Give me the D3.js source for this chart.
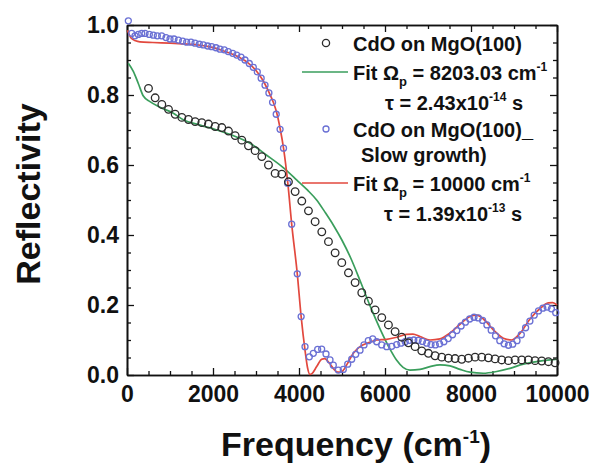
<!DOCTYPE html>
<html>
<head>
<meta charset="utf-8">
<script src="https://cdn.jsdelivr.net/npm/d3@7"></script>
<style>
  body { margin: 0; background: #fff; }
  svg text { font-family: "Liberation Sans", Arial, sans-serif; font-weight: bold; fill: #111; }
</style>
</head>
<body>
<div id="chart"></div>
<script>
// measured data: CdO on MgO(100)
const freqBlack = [500, 655, 810, 965, 1120, 1275, 1430, 1585, 1740, 1895, 2050, 2205, 2360, 2515, 2670, 2825, 2980, 3135, 3290, 3445,
  3600, 3755, 3910, 4065, 4220, 4375, 4530, 4685, 4840, 4995, 5150, 5305, 5460, 5615, 5770, 5925, 6080, 6235, 6390, 6545,
  6700, 6855, 7010, 7165, 7320, 7475, 7630, 7785, 7940, 8095, 8250, 8405, 8560, 8715, 8870, 9025, 9180, 9335, 9490, 9645, 9800, 9955];
const reflBlack = [0.819, 0.792, 0.773, 0.759, 0.745, 0.736, 0.730, 0.724, 0.721, 0.717, 0.710, 0.707, 0.697, 0.684, 0.671, 0.655, 0.641, 0.624, 0.600, 0.576,
  0.574, 0.552, 0.524, 0.497, 0.469, 0.438, 0.409, 0.381, 0.349, 0.321, 0.292, 0.264, 0.235, 0.211, 0.186, 0.164, 0.143, 0.124, 0.108, 0.092,
  0.081, 0.069, 0.062, 0.055, 0.051, 0.048, 0.047, 0.045, 0.048, 0.051, 0.051, 0.049, 0.046, 0.043, 0.041, 0.043, 0.043, 0.043, 0.041, 0.040, 0.038, 0.035];

// CdO on MgO(100) slow growth
const freqBlue = [31, 109, 186, 263, 342, 419, 519, 612, 705, 806, 907, 1000, 1093, 1194, 1295, 1388, 1488, 1581, 1682, 1775,
  1877, 1969, 2070, 2163, 2263, 2356, 2458, 2551, 2651, 2744, 2844, 2937, 3030, 3120, 3210, 3300, 3385, 3470, 3560, 3640,
  3735, 3830, 3960, 4050, 4140, 4240, 4333, 4434, 4527, 4628, 4721, 4798, 4914, 5030, 5133, 5226, 5319, 5419, 5512, 5612,
  5714, 5807, 5923, 6040, 6156, 6272, 6370, 6470, 6570, 6670, 6770, 6870, 6970, 7070, 7170, 7270, 7370, 7470, 7570, 7670,
  7770, 7870, 7970, 8070, 8170, 8270, 8370, 8470, 8570, 8670, 8770, 8870, 8970, 9070, 9170, 9270, 9370, 9470, 9570, 9670, 9770, 9870, 9970];
const reflBlue = [1.012, 0.976, 0.969, 0.973, 0.976, 0.976, 0.973, 0.971, 0.969, 0.969, 0.964, 0.960, 0.960, 0.957, 0.954, 0.951, 0.951, 0.948, 0.945, 0.943,
  0.940, 0.938, 0.935, 0.931, 0.929, 0.924, 0.919, 0.914, 0.908, 0.900, 0.890, 0.879, 0.866, 0.848, 0.828, 0.806, 0.779, 0.745, 0.702, 0.648,
  0.548, 0.431, 0.289, 0.167, 0.081, 0.052, 0.062, 0.073, 0.074, 0.060, 0.043, 0.028, 0.014, 0.016, 0.031, 0.045, 0.059, 0.071, 0.086, 0.098,
  0.103, 0.095, 0.086, 0.081, 0.082, 0.087, 0.091, 0.095, 0.099, 0.100, 0.099, 0.096, 0.091, 0.087, 0.086, 0.089, 0.095, 0.104, 0.115, 0.127,
  0.140, 0.151, 0.160, 0.165, 0.163, 0.156, 0.143, 0.128, 0.112, 0.098, 0.089, 0.085, 0.088, 0.098, 0.115, 0.135, 0.154, 0.171, 0.183, 0.191, 0.194, 0.189, 0.178];

// Drude fit, Wp = 8203.03
const freqFitGreen = [30, 150, 263, 380, 535, 767, 1078, 1310, 1700, 2085, 2470, 2860, 3250, 3640, 3950, 4200, 4410, 4600, 4800, 5000,
  5200, 5419, 5651, 5884, 6116, 6272, 6420, 6580, 6814, 7047, 7279, 7512, 7744, 7977, 8288, 8598, 8907, 9217, 9528, 9837, 10000];
const reflFitGreen = [0.891, 0.867, 0.833, 0.797, 0.781, 0.765, 0.748, 0.729, 0.714, 0.700, 0.684, 0.662, 0.628, 0.592, 0.557, 0.528, 0.500, 0.466, 0.428, 0.385,
  0.335, 0.270, 0.198, 0.132, 0.074, 0.042, 0.022, 0.014, 0.016, 0.024, 0.029, 0.026, 0.016, 0.008, 0.005, 0.010, 0.019, 0.031, 0.038, 0.043, 0.045];

// Drude fit, Wp = 10000
const freqFitRed = [10, 100, 200, 300, 600, 1000, 1300, 1600, 1900, 2200, 2500, 2800, 3000, 3170, 3300, 3400, 3480, 3560, 3640, 3740,
  3830, 3960, 4050, 4140, 4200, 4250, 4300, 4411, 4527, 4600, 4700, 4800, 4900, 5000, 5109, 5263, 5419, 5612, 5807, 6040,
  6272, 6500, 6650, 6814, 7047, 7279, 7512, 7744, 7977, 8133, 8288, 8519, 8752, 8947, 9140, 9372, 9605, 9798, 9900, 10000];
const reflFitRed = [0.985, 0.962, 0.955, 0.952, 0.950, 0.948, 0.946, 0.944, 0.938, 0.928, 0.914, 0.893, 0.870, 0.840, 0.808, 0.780, 0.750, 0.705, 0.648, 0.548,
  0.431, 0.289, 0.167, 0.071, 0.020, 0.002, 0.004, 0.024, 0.045, 0.047, 0.035, 0.018, 0.008, 0.010, 0.029, 0.062, 0.081, 0.092, 0.100, 0.102,
  0.108, 0.116, 0.117, 0.110, 0.100, 0.103, 0.120, 0.145, 0.167, 0.171, 0.160, 0.129, 0.105, 0.100, 0.119, 0.160, 0.190, 0.206, 0.207, 0.200];

const xMajor = [0, 2000, 4000, 6000, 8000, 10000];
const xMinor = [500, 1000, 1500, 2500, 3000, 3500, 4500, 5000, 5500, 6500, 7000, 7500, 8500, 9000, 9500];
const yMajor = [0, 0.2, 0.4, 0.6, 0.8, 1.0];
const yMinor = [0.05, 0.1, 0.15, 0.25, 0.3, 0.35, 0.45, 0.5, 0.55, 0.65, 0.7, 0.75, 0.85, 0.9, 0.95];

const colBlack = "#2b2b2b", colBlue = "#6a70d4", colGreen = "#3a9e5c", colRed = "#e2483e";

// set the dimensions and margins of the graph
const margin = {top: 25, right: 39, bottom: 88, left: 127},
    width = 596 - margin.left - margin.right,
    height = 463 - margin.top - margin.bottom;

const svg = d3.select("#chart")
  .append("svg")
    .attr("width", 596)
    .attr("height", 463)
  .append("g")
    .attr("transform", `translate(${margin.left}, ${margin.top})`);

const x = d3.scaleLinear().domain([0, 10000]).range([0, width]);
const y = d3.scaleLinear().domain([0, 1.0]).range([height, 0]);

// axes, ticks pointing inside
function styleAxis(g) {
  g.select(".domain").attr("stroke", "#111").attr("stroke-width", 1.6);
  g.selectAll(".tick line").attr("stroke", "#111").attr("stroke-width", 1.3);
}

// bottom
svg.append("g")
  .attr("transform", `translate(0, ${height})`)
  .call(d3.axisBottom(x).tickValues(xMinor).tickSize(-4).tickSizeOuter(0).tickFormat(""))
  .call(styleAxis);
svg.append("g")
  .attr("transform", `translate(0, ${height})`)
  .call(d3.axisBottom(x).tickValues(xMajor).tickSize(-7).tickSizeOuter(0).tickPadding(11).tickFormat(d3.format("d")))
  .call(styleAxis)
  .selectAll("text").style("font-size", "23px").attr("fill", "#111");

// top
svg.append("g")
  .call(d3.axisTop(x).tickValues(xMinor).tickSize(-4).tickSizeOuter(0).tickFormat(""))
  .call(styleAxis);
svg.append("g")
  .call(d3.axisTop(x).tickValues(xMajor).tickSize(-7).tickSizeOuter(0).tickFormat(""))
  .call(styleAxis);

// left
svg.append("g")
  .call(d3.axisLeft(y).tickValues(yMinor).tickSize(-4).tickSizeOuter(0).tickFormat(""))
  .call(styleAxis);
svg.append("g")
  .call(d3.axisLeft(y).tickValues(yMajor).tickSize(-7).tickSizeOuter(0).tickPadding(8).tickFormat(d3.format(".1f")))
  .call(styleAxis)
  .selectAll("text").style("font-size", "23px").attr("fill", "#111");

// right
svg.append("g")
  .attr("transform", `translate(${width}, 0)`)
  .call(d3.axisRight(y).tickValues(yMinor).tickSize(-4).tickSizeOuter(0).tickFormat(""))
  .call(styleAxis);
svg.append("g")
  .attr("transform", `translate(${width}, 0)`)
  .call(d3.axisRight(y).tickValues(yMajor).tickSize(-7).tickSizeOuter(0).tickFormat(""))
  .call(styleAxis);

// the fit lines
const line = d3.line()
  .x(d => x(d[0]))
  .y(d => y(d[1]))
  .curve(d3.curveMonotoneX);

svg.append("path")
  .datum(freqFitGreen.map((f, i) => [f, reflFitGreen[i]]))
  .attr("d", line)
  .attr("fill", "none")
  .attr("stroke", colGreen)
  .attr("stroke-width", 1.7);

svg.append("path")
  .datum(freqFitRed.map((f, i) => [f, reflFitRed[i]]))
  .attr("d", line)
  .attr("fill", "none")
  .attr("stroke", colRed)
  .attr("stroke-width", 1.7);

// the points
svg.append("g")
  .selectAll("circle")
  .data(freqBlue.map((f, i) => [f, reflBlue[i]]))
  .join("circle")
    .attr("cx", d => x(d[0]))
    .attr("cy", d => y(d[1]))
    .attr("r", 3.0)
    .attr("fill", "none")
    .attr("stroke", colBlue)
    .attr("stroke-width", 1.3);

svg.append("g")
  .selectAll("circle")
  .data(freqBlack.map((f, i) => [f, reflBlack[i]]))
  .join("circle")
    .attr("cx", d => x(d[0]))
    .attr("cy", d => y(d[1]))
    .attr("r", 3.8)
    .attr("fill", "none")
    .attr("stroke", colBlack)
    .attr("stroke-width", 1.3);

// axis titles
const root = d3.select("#chart svg");

const xTitle = root.append("text")
  .attr("x", 221)
  .attr("y", 456)
  .style("font-size", "34px");
xTitle.append("tspan").text("Frequency (cm");
xTitle.append("tspan").attr("dy", -13).style("font-size", "19px").text("-1");
xTitle.append("tspan").attr("dy", 13).text(")");

root.append("text")
  .attr("transform", "translate(40, 194) rotate(-90)")
  .style("text-anchor", "middle")
  .style("font-size", "34px")
  .text("Reflectivity");

// legend
const legend = root.append("g").style("font-size", "20px");

legend.append("circle").attr("cx", 326).attr("cy", 43).attr("r", 3.6)
  .attr("fill", "none").attr("stroke", colBlack).attr("stroke-width", 1.3);
legend.append("text").attr("x", 353).attr("y", 51).text("CdO on MgO(100)");

legend.append("line").attr("x1", 302).attr("x2", 348).attr("y1", 72).attr("y2", 72)
  .attr("stroke", colGreen).attr("stroke-width", 1.7);
const g1 = legend.append("text").attr("x", 353).attr("y", 80);
g1.append("tspan").text("Fit Ω");
g1.append("tspan").attr("dy", 6).style("font-size", "13px").text("p");
g1.append("tspan").attr("dy", -6).text(" =  8203.03 cm");
g1.append("tspan").attr("dy", -9).style("font-size", "12px").text("-1");

const t1 = legend.append("text").attr("x", 385).attr("y", 110);
t1.append("tspan").text("τ =  2.43x10");
t1.append("tspan").attr("dy", -9).style("font-size", "12px").text("-14");
t1.append("tspan").attr("dy", 9).text(" s");

legend.append("circle").attr("cx", 326).attr("cy", 129).attr("r", 3.0)
  .attr("fill", "none").attr("stroke", colBlue).attr("stroke-width", 1.3);
legend.append("text").attr("x", 353).attr("y", 137).text("CdO on MgO(100)_");
legend.append("text").attr("x", 361).attr("y", 162).text("Slow growth)");

legend.append("line").attr("x1", 302).attr("x2", 348).attr("y1", 183).attr("y2", 183)
  .attr("stroke", colRed).attr("stroke-width", 1.7);
const g2 = legend.append("text").attr("x", 353).attr("y", 191);
g2.append("tspan").text("Fit Ω");
g2.append("tspan").attr("dy", 6).style("font-size", "13px").text("p");
g2.append("tspan").attr("dy", -6).text(" = 10000 cm");
g2.append("tspan").attr("dy", -9).style("font-size", "12px").text("-1");

const t2 = legend.append("text").attr("x", 384).attr("y", 221);
t2.append("tspan").text("τ = 1.39x10");
t2.append("tspan").attr("dy", -9).style("font-size", "12px").text("-13");
t2.append("tspan").attr("dy", 9).text(" s");
</script>
</body>
</html>
